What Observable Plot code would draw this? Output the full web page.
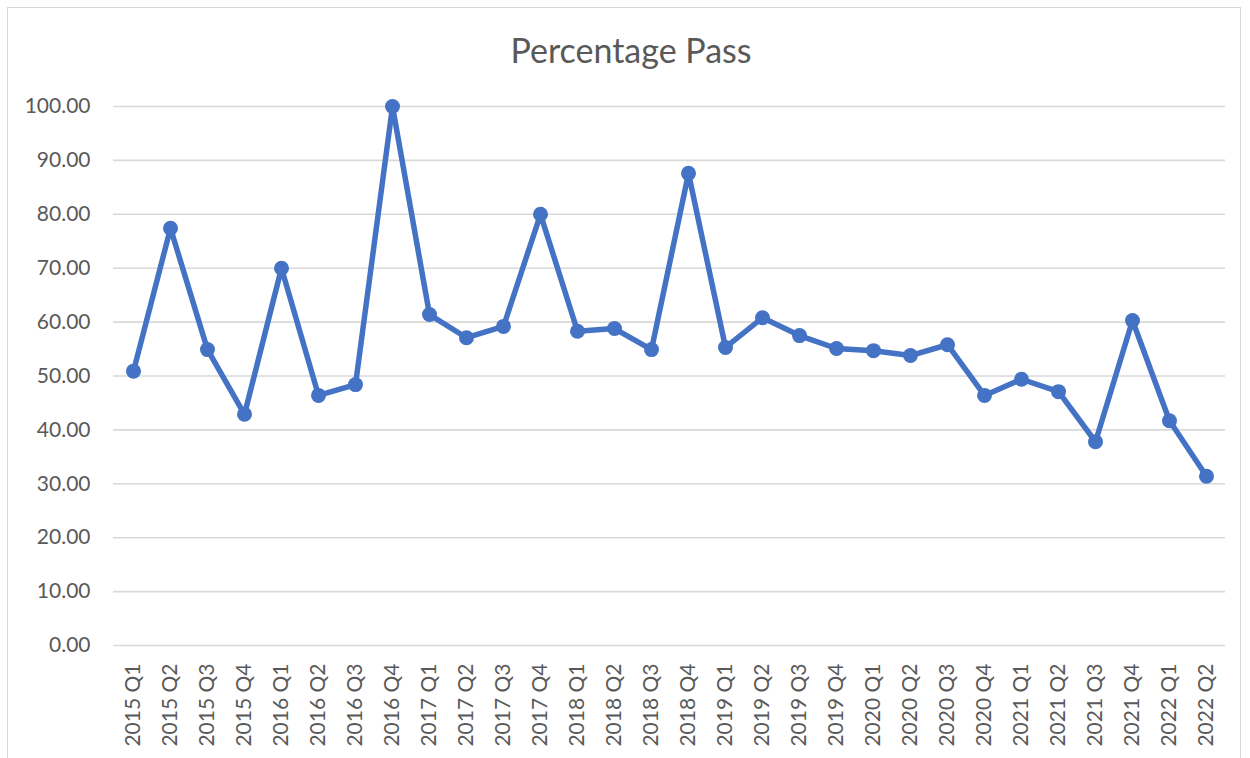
<!DOCTYPE html>
<html>
<head>
<meta charset="utf-8">
<script src="https://cdn.jsdelivr.net/npm/d3@7"></script>
<script src="https://cdn.jsdelivr.net/npm/@observablehq/plot@0.6"></script>
<style>
  html, body { margin: 0; padding: 0; background: #fff; overflow: hidden; }
  #wrap { position: relative; width: 1250px; height: 758px; font-family: Lato, "Open Sans", sans-serif; }
  #frame { position: absolute; left: 7px; top: 7px; width: 1234px; height: 770px; border: 1.5px solid #d9d9d9; box-sizing: border-box; }
  #title { position: absolute; left: 0; width: 1262px; top: 29px; text-align: center; font-size: 34px; color: #595959; font-family: Lato, sans-serif; }
  #chart { position: absolute; left: 0; top: 0; }
</style>
</head>
<body>
<div id="wrap">
  <div id="frame"></div>
  <div id="chart"></div>
  <div id="title">Percentage Pass</div>
</div>
<script>
const quarters = [
  "2015 Q1","2015 Q2","2015 Q3","2015 Q4",
  "2016 Q1","2016 Q2","2016 Q3","2016 Q4",
  "2017 Q1","2017 Q2","2017 Q3","2017 Q4",
  "2018 Q1","2018 Q2","2018 Q3","2018 Q4",
  "2019 Q1","2019 Q2","2019 Q3","2019 Q4",
  "2020 Q1","2020 Q2","2020 Q3","2020 Q4",
  "2021 Q1","2021 Q2","2021 Q3","2021 Q4",
  "2022 Q1","2022 Q2"
];
const passRate = [
  50.9, 77.4, 54.9, 42.9,
  70.0, 46.4, 48.4, 100.0,
  61.4, 57.1, 59.2, 80.0,
  58.3, 58.8, 54.9, 87.6,
  55.3, 60.8, 57.5, 55.1,
  54.7, 53.8, 55.8, 46.4,
  49.4, 47.1, 37.8, 60.3,
  41.7, 31.4
];
const yTicks = [0, 10, 20, 30, 40, 50, 60, 70, 80, 90, 100];

const data = quarters.map((q, i) => ({quarter: q, value: passRate[i]}));

const chart = Plot.plot({
  width: 1250,
  height: 758,
  marginLeft: 113,
  marginRight: 25,
  marginTop: 106,
  marginBottom: 113,
  style: {fontFamily: "Lato, sans-serif", fontSize: "21px", color: "#595959", background: "transparent", overflow: "visible"},
  x: {type: "point", domain: quarters, padding: 0.5, label: null},
  y: {domain: [0, 100], label: null},
  marks: [
    Plot.ruleY(yTicks, {stroke: "#d9d9d9", strokeWidth: 1.6}),
    Plot.axisY({ticks: yTicks, tickFormat: d => d.toFixed(2), tickSize: 0, tickPadding: 23, label: null, fill: "#595959", fontSize: 21}),
    Plot.axisX({tickRotate: -90, tickSize: 0, tickPadding: 18, label: null, fill: "#595959", fontSize: 21}),
    Plot.line(data, {x: "quarter", y: "value", stroke: "#4472C4", strokeWidth: 5.5, strokeLinejoin: "round"}),
    Plot.dot(data, {x: "quarter", y: "value", r: 7.5, fill: "#4472C4", stroke: "none"})
  ]
});
document.getElementById("chart").appendChild(chart);
</script>
</body>
</html>
